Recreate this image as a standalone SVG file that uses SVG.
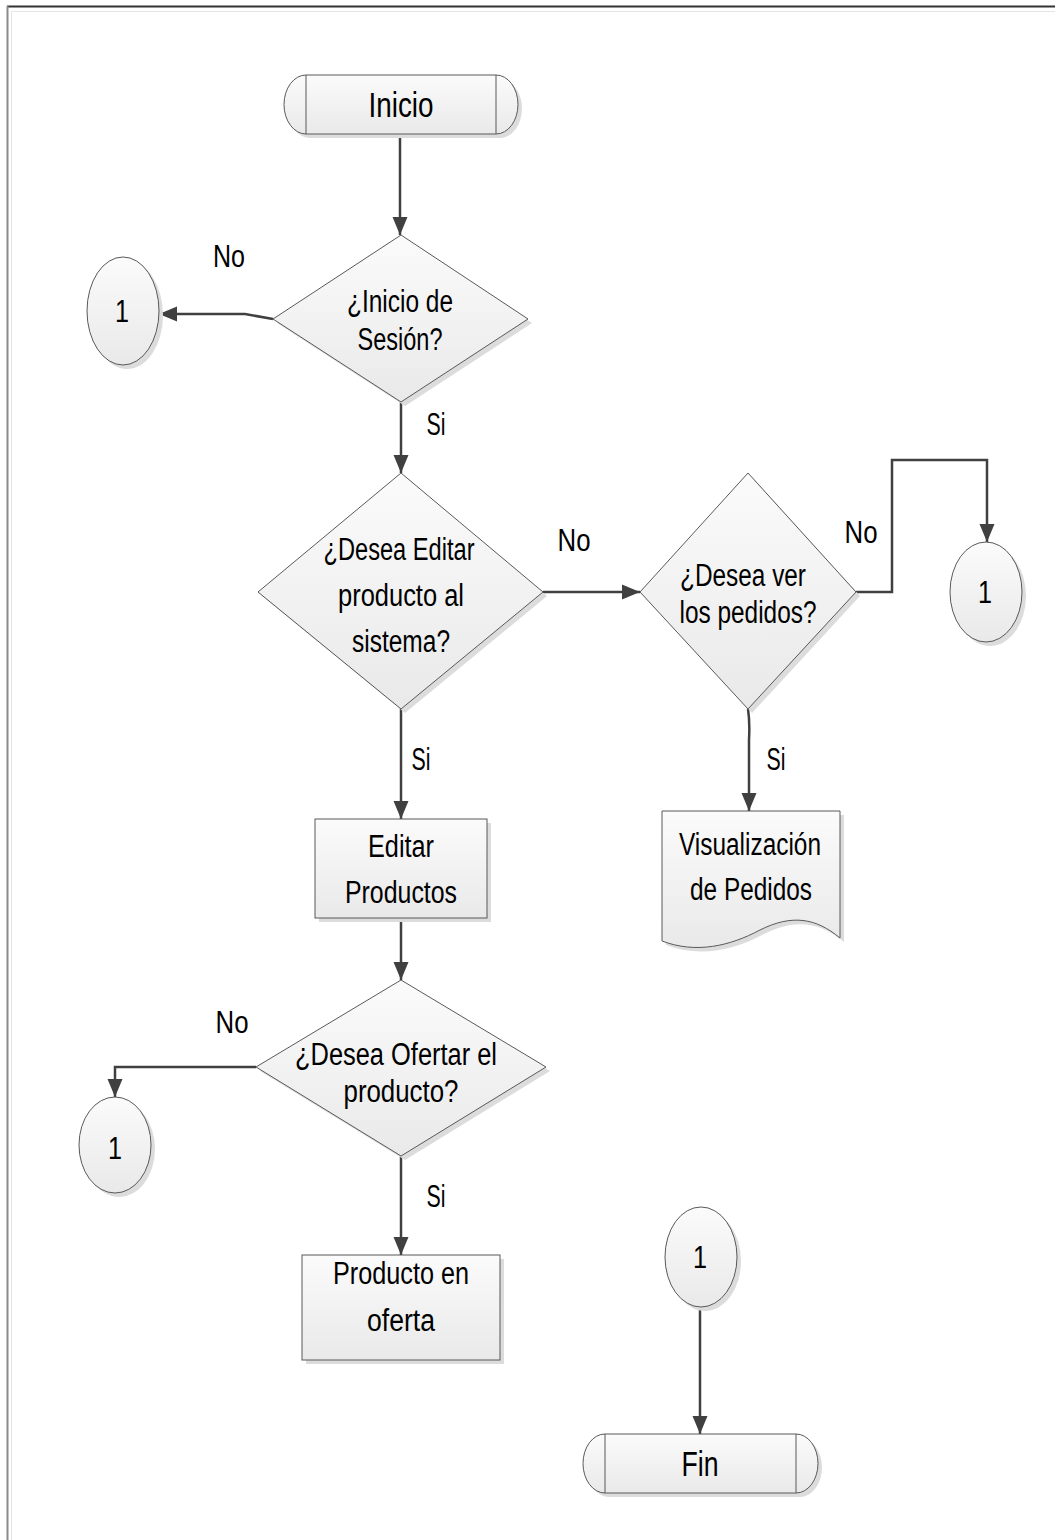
<svg xmlns="http://www.w3.org/2000/svg" width="1055" height="1540" viewBox="0 0 1055 1540">
  <style>
    .shape { fill: url(#fillGrad); stroke: #595959; stroke-width: 1; }
    .shadow { fill: #dcdcdc; stroke: none; }
    .divider { stroke: #595959; stroke-width: 1; fill: none; }
    .lbl { font-family: 'Liberation Sans Narrow', 'Liberation Sans', sans-serif; font-size: 31px; fill: #000; text-anchor: middle; }
    .big { font-size: 35px; }
    .conn { fill: none; stroke: #404040; stroke-width: 2.5; marker-end: url(#arrow); }
  </style>
  <defs>
    <linearGradient id="fillGrad" x1="0" y1="0" x2="0" y2="1">
      <stop offset="0" stop-color="#fbfbfb"/>
      <stop offset="1" stop-color="#e9e9e9"/>
    </linearGradient>
    <marker id="arrow" markerUnits="userSpaceOnUse" markerWidth="20" markerHeight="16" refX="18" refY="8" orient="auto">
      <path d="M0,0.5 L18,8 L0,15.5 Z" fill="#404040"/>
    </marker>
  </defs>

  <rect width="1055" height="1540" fill="#ffffff"/>
  <!-- page frame -->
  <g id="frame">
    <line x1="7" y1="6.5" x2="1055" y2="6.5" stroke="#333" stroke-width="2"/>
    <line x1="7.5" y1="6" x2="7.5" y2="1540" stroke="#8a8a8a" stroke-width="2"/>
    <line x1="11" y1="11.5" x2="1055" y2="11.5" stroke="#e4e4e4" stroke-width="1"/>
    <line x1="11.5" y1="11" x2="11.5" y2="1540" stroke="#e4e4e4" stroke-width="1"/>
  </g>

  <g id="connectors">
    <path class="conn" d="M400,134 V235"/>
    <path class="conn" d="M273,319 L245,314 H159"/>
    <path class="conn" d="M401,402 V473"/>
    <path class="conn" d="M543,592 H640"/>
    <path class="conn" d="M856,592 H892 V460 H987 V542"/>
    <path class="conn" d="M748,709 Q750,722 749,740 V811"/>
    <path class="conn" d="M401,709 V819"/>
    <path class="conn" d="M401,918 V980"/>
    <path class="conn" d="M256,1067 H115 V1097"/>
    <path class="conn" d="M401,1156 V1255"/>
    <path class="conn" d="M700,1307 V1434"/>
  </g>

  <g id="connector-labels">
    <text class="lbl" x="229" y="267" textLength="32" lengthAdjust="spacingAndGlyphs">No</text>
    <text class="lbl" x="436" y="435" textLength="19" lengthAdjust="spacingAndGlyphs">Si</text>
    <text class="lbl" x="574" y="551" textLength="33" lengthAdjust="spacingAndGlyphs">No</text>
    <text class="lbl" x="861" y="543" textLength="33" lengthAdjust="spacingAndGlyphs">No</text>
    <text class="lbl" x="421" y="770" textLength="19" lengthAdjust="spacingAndGlyphs">Si</text>
    <text class="lbl" x="776" y="770" textLength="19" lengthAdjust="spacingAndGlyphs">Si</text>
    <text class="lbl" x="232" y="1033" textLength="33" lengthAdjust="spacingAndGlyphs">No</text>
    <text class="lbl" x="436" y="1207" textLength="19" lengthAdjust="spacingAndGlyphs">Si</text>
  </g>

  <g id="inicio">
    <path class="shadow" d="M310,79 H500 A22,29.5 0 0 1 500,138 H310 A22,29.5 0 0 1 310,79 Z"/>
    <path class="shape" d="M306,75 H496 A22,29.5 0 0 1 496,134 H306 A22,29.5 0 0 1 306,75 Z"/>
    <line class="divider" x1="306" y1="75" x2="306" y2="134"/>
    <line class="divider" x1="496" y1="75" x2="496" y2="134"/>
    <text class="lbl big" x="401" y="117" textLength="65" lengthAdjust="spacingAndGlyphs">Inicio</text>
  </g>

  <g id="decision-sesion">
    <polygon class="shadow" points="405,239 532,323 405,406 277,323"/>
    <polygon class="shape" points="401,235 528,319 401,402 273,319"/>
    <text class="lbl" x="400" y="312" textLength="106" lengthAdjust="spacingAndGlyphs">¿Inicio de</text>
    <text class="lbl" x="400" y="350" textLength="85" lengthAdjust="spacingAndGlyphs">Sesión?</text>
  </g>

  <g id="connector-1-a">
    <ellipse class="shadow" cx="127" cy="315" rx="36" ry="54"/>
    <ellipse class="shape" cx="123" cy="311" rx="36" ry="54"/>
    <text class="lbl" x="122" y="322" textLength="14" lengthAdjust="spacingAndGlyphs">1</text>
  </g>

  <g id="decision-editar">
    <polygon class="shadow" points="405,477 547,596 405,713 262,596"/>
    <polygon class="shape" points="401,473 543,592 401,709 258,592"/>
    <text class="lbl" x="399" y="560" textLength="151" lengthAdjust="spacingAndGlyphs">¿Desea Editar</text>
    <text class="lbl" x="401" y="606" textLength="126" lengthAdjust="spacingAndGlyphs">producto al</text>
    <text class="lbl" x="401" y="652" textLength="98" lengthAdjust="spacingAndGlyphs">sistema?</text>
  </g>

  <g id="decision-pedidos">
    <polygon class="shadow" points="752,477 860,596 752,713 644,596"/>
    <polygon class="shape" points="748,473 856,592 748,709 640,592"/>
    <text class="lbl" x="743" y="586" textLength="126" lengthAdjust="spacingAndGlyphs">¿Desea ver</text>
    <text class="lbl" x="748" y="623" textLength="137" lengthAdjust="spacingAndGlyphs">los pedidos?</text>
  </g>

  <g id="connector-1-b">
    <ellipse class="shadow" cx="990" cy="596" rx="36" ry="50"/>
    <ellipse class="shape" cx="986" cy="592" rx="36" ry="50"/>
    <text class="lbl" x="985" y="603" textLength="14" lengthAdjust="spacingAndGlyphs">1</text>
  </g>

  <g id="visualizacion-pedidos">
    <path class="shadow" d="M666,815 H844 V942 C820,922 796,918 764,934 C734,950 700,958 666,945 Z"/>
    <path class="shape" d="M662,811 H840 V938 C816,918 792,914 760,930 C730,946 696,954 662,941 Z"/>
    <text class="lbl" x="750" y="855" textLength="142" lengthAdjust="spacingAndGlyphs">Visualización</text>
    <text class="lbl" x="751" y="900" textLength="122" lengthAdjust="spacingAndGlyphs">de Pedidos</text>
  </g>

  <g id="editar-productos">
    <rect class="shadow" x="319" y="823" width="172" height="99"/>
    <rect class="shape" x="315" y="819" width="172" height="99"/>
    <text class="lbl" x="401" y="857" textLength="66" lengthAdjust="spacingAndGlyphs">Editar</text>
    <text class="lbl" x="401" y="903" textLength="112" lengthAdjust="spacingAndGlyphs">Productos</text>
  </g>

  <g id="decision-ofertar">
    <polygon class="shadow" points="405,984 550,1071 405,1160 260,1071"/>
    <polygon class="shape" points="401,980 546,1067 401,1156 256,1067"/>
    <text class="lbl" x="396" y="1065" textLength="202" lengthAdjust="spacingAndGlyphs">¿Desea Ofertar el</text>
    <text class="lbl" x="401" y="1102" textLength="115" lengthAdjust="spacingAndGlyphs">producto?</text>
  </g>

  <g id="connector-1-c">
    <ellipse class="shadow" cx="119" cy="1149" rx="36" ry="48"/>
    <ellipse class="shape" cx="115" cy="1145" rx="36" ry="48"/>
    <text class="lbl" x="115" y="1159" textLength="14" lengthAdjust="spacingAndGlyphs">1</text>
  </g>

  <g id="producto-oferta">
    <rect class="shadow" x="306" y="1259" width="198" height="105"/>
    <rect class="shape" x="302" y="1255" width="198" height="105"/>
    <text class="lbl" x="401" y="1284" textLength="136" lengthAdjust="spacingAndGlyphs">Producto en</text>
    <text class="lbl" x="401" y="1331" textLength="68" lengthAdjust="spacingAndGlyphs">oferta</text>
  </g>

  <g id="connector-1-d">
    <ellipse class="shadow" cx="705" cy="1261" rx="36" ry="50"/>
    <ellipse class="shape" cx="701" cy="1257" rx="36" ry="50"/>
    <text class="lbl" x="700" y="1268" textLength="14" lengthAdjust="spacingAndGlyphs">1</text>
  </g>

  <g id="fin">
    <path class="shadow" d="M609,1438 H800 A22,29.5 0 0 1 800,1497 H609 A22,29.5 0 0 1 609,1438 Z"/>
    <path class="shape" d="M605,1434 H796 A22,29.5 0 0 1 796,1493 H605 A22,29.5 0 0 1 605,1434 Z"/>
    <line class="divider" x1="605" y1="1434" x2="605" y2="1493"/>
    <line class="divider" x1="796" y1="1434" x2="796" y2="1493"/>
    <text class="lbl big" x="700" y="1476" textLength="37" lengthAdjust="spacingAndGlyphs">Fin</text>
  </g>
</svg>
